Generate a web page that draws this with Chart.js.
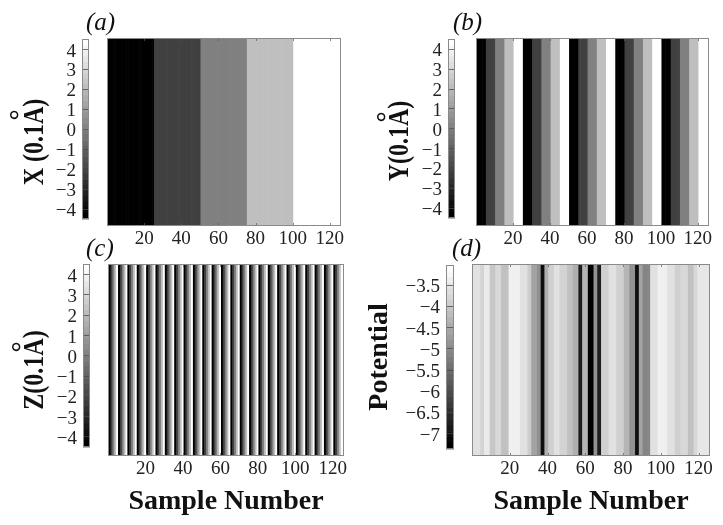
<!DOCTYPE html>
<html>
<head>
<meta charset="utf-8">
<title>Sample number maps</title>
<script src="https://cdn.jsdelivr.net/npm/chart.js@4"></script>
<style>
  html, body { margin: 0; background: #fff; }
  #page { position: relative; width: 723px; height: 525px; overflow: hidden; }
  canvas { position: absolute; }
</style>
</head>
<body>
<div id="page"></div>
<script>
const sampleNumbers = [
  1,2,3,4,5,6,7,8,9,10,11,12,13,14,15,16,17,18,19,20,21,22,23,24,25,
  26,27,28,29,30,31,32,33,34,35,36,37,38,39,40,41,42,43,44,45,46,47,48,49,50,
  51,52,53,54,55,56,57,58,59,60,61,62,63,64,65,66,67,68,69,70,71,72,73,74,75,
  76,77,78,79,80,81,82,83,84,85,86,87,88,89,90,91,92,93,94,95,96,97,98,99,100,
  101,102,103,104,105,106,107,108,109,110,111,112,113,114,115,116,117,118,119,120,121,122,123,124,125
];

const xValues = [
  -4,-4,-4,-4,-4,-4,-4,-4,-4,-4,-4,-4,-4,-4,-4,-4,-4,-4,-4,-4,-4,-4,-4,-4,-4,
  -2,-2,-2,-2,-2,-2,-2,-2,-2,-2,-2,-2,-2,-2,-2,-2,-2,-2,-2,-2,-2,-2,-2,-2,-2,
  0,0,0,0,0,0,0,0,0,0,0,0,0,0,0,0,0,0,0,0,0,0,0,0,0,
  2,2,2,2,2,2,2,2,2,2,2,2,2,2,2,2,2,2,2,2,2,2,2,2,2,
  4,4,4,4,4,4,4,4,4,4,4,4,4,4,4,4,4,4,4,4,4,4,4,4,4
];

const yValues = [
  -4,-4,-4,-4,-4,-2,-2,-2,-2,-2,0,0,0,0,0,2,2,2,2,2,4,4,4,4,4,
  -4,-4,-4,-4,-4,-2,-2,-2,-2,-2,0,0,0,0,0,2,2,2,2,2,4,4,4,4,4,
  -4,-4,-4,-4,-4,-2,-2,-2,-2,-2,0,0,0,0,0,2,2,2,2,2,4,4,4,4,4,
  -4,-4,-4,-4,-4,-2,-2,-2,-2,-2,0,0,0,0,0,2,2,2,2,2,4,4,4,4,4,
  -4,-4,-4,-4,-4,-2,-2,-2,-2,-2,0,0,0,0,0,2,2,2,2,2,4,4,4,4,4
];

const zValues = [
  -4,-2,0,2,4,-4,-2,0,2,4,-4,-2,0,2,4,-4,-2,0,2,4,-4,-2,0,2,4,
  -4,-2,0,2,4,-4,-2,0,2,4,-4,-2,0,2,4,-4,-2,0,2,4,-4,-2,0,2,4,
  -4,-2,0,2,4,-4,-2,0,2,4,-4,-2,0,2,4,-4,-2,0,2,4,-4,-2,0,2,4,
  -4,-2,0,2,4,-4,-2,0,2,4,-4,-2,0,2,4,-4,-2,0,2,4,-4,-2,0,2,4,
  -4,-2,0,2,4,-4,-2,0,2,4,-4,-2,0,2,4,-4,-2,0,2,4,-4,-2,0,2,4
];

// (d) stripe by stripe
const potentialValues = [
  -3.55,-3.55,-3.55,-3.55,-3.8,-3.8,-3.4,-3.4,-3.4,-4.0,-4.0,-4.0,-3.7,-3.7,-3.7,-4.1,-4.1,-4.1,-4.1,
  -3.3,-3.3,-3.3,-3.3,-3.3,-3.3,-3.55,-3.55,-3.55,-3.55,-3.9,-3.9,-4.6,-4.6,-4.6,-4.9,-4.9,
  -7.1,-7.1,-4.4,-4.4,-3.85,-3.85,-3.85,-3.55,-3.55,-3.55,-3.8,-3.8,-3.8,-3.8,
  -4.1,-4.1,-4.1,-4.4,-4.4,-4.4,-6.9,-6.9,-4.3,-4.3,-4.3,-7.35,-7.35,-7.35,-4.9,-4.9,-6.9,-6.9,
  -3.85,-3.85,-3.85,-3.85,-3.55,-3.55,-3.55,-3.55,-3.85,-3.85,-3.85,-3.85,-4.3,-4.3,-4.3,
  -4.9,-4.9,-4.9,-7.1,-7.1,-4.6,-4.6,-5.1,-5.1,-5.1,-5.1,-3.55,-3.55,-3.55,-3.55,
  -3.3,-3.3,-3.3,-3.3,-3.3,-3.55,-3.55,-3.55,-3.55,-3.85,-3.85,-3.85,-3.7,-3.7,-3.7,-3.7,
  -4.1,-4.1,-4.1,-3.7,-3.7,-3.45,-3.45,-3.45,-3.45,-3.45,-3.45
];

const positionTicks = [-4, -3, -2, -1, 0, 1, 2, 3, 4];
const potentialTicks = [-3.5, -4, -4.5, -5, -5.5, -6, -6.5, -7];
const sampleTicks = [20, 40, 60, 80, 100, 120];

// colour bar steps, dark to light
const barGreys = [
  0,8,16,25,33,41,49,58,66,74,82,90,99,107,115,123,
  132,140,148,156,165,173,181,189,197,206,214,222,230,239,247,255
];

const SERIF = "'Liberation Serif', 'Times New Roman', serif";

const panels = [
  { letter: "(a)", letterX: 86, letterY: 30, title: "X (0.1A)", titleX: 43, titleY: 142, titleSize: 24, titleStretch: 1.2, ringX: 28, ringY: 115,
    values: xValues, ticks: positionTicks, colorMin: -4, colorMax: 4, barMin: -4.48, barMax: 4.48,
    map: { x: 108, y: 39, w: 232, h: 186 }, bar: { x: 83, y: 40, w: 5, h: 187 }, xTitle: "" },
  { letter: "(b)", letterX: 453, letterY: 30, title: "Y(0.1A)", titleX: 408, titleY: 141, titleSize: 24, titleStretch: 1.2, ringX: 395, ringY: 117,
    values: yValues, ticks: positionTicks, colorMin: -4, colorMax: 4, barMin: -4.48, barMax: 4.48,
    map: { x: 477, y: 39, w: 231, h: 186 }, bar: { x: 449, y: 40, w: 5, h: 186 }, xTitle: "" },
  { letter: "(c)", letterX: 86, letterY: 256, title: "Z(0.1A)", titleX: 43, titleY: 370, titleSize: 24, titleStretch: 1.2, ringX: 30, ringY: 347,
    values: zValues, ticks: positionTicks, colorMin: -4, colorMax: 4, barMin: -4.48, barMax: 4.48,
    map: { x: 109, y: 265, w: 234, h: 190 }, bar: { x: 84, y: 265, w: 5, h: 190 }, xTitle: "Sample Number" },
  { letter: "(d)", letterX: 452, letterY: 256, title: "Potential", titleX: 387, titleY: 357, titleSize: 28, titleStretch: 1,
    values: potentialValues, ticks: potentialTicks, colorMin: -7.35, colorMax: -3.05, barMin: -7.35, barMax: -3.05,
    map: { x: 473, y: 265, w: 236, h: 190 }, bar: { x: 447, y: 266, w: 6, h: 191 }, xTitle: "Sample Number" }
];

function greyFor(value, min, max) {
  const g = Math.round(255 * (value - min) / (max - min));
  return `rgb(${g},${g},${g})`;
}

function addCanvas(x, y, w, h) {
  const canvas = document.createElement("canvas");
  canvas.width = w;
  canvas.height = h;
  canvas.style.left = `${x}px`;
  canvas.style.top = `${y}px`;
  canvas.style.width = `${w}px`;
  canvas.style.height = `${h}px`;
  document.getElementById("page").appendChild(canvas);
  return canvas;
}

function minusLabel(value) {
  return value < 0 ? `\u2212${Math.abs(value)}` : `${value}`;
}

const framePlugin = {
  id: "frame",
  afterDatasetsDraw(chart) {
    const { left, top, width, height } = chart.chartArea;
    const ctx = chart.ctx;
    ctx.save();
    ctx.strokeStyle = "#8a8a8a";
    ctx.lineWidth = 1;
    ctx.strokeRect(left - 0.5, top - 0.5, width + 1, height + 1);
    ctx.restore();
  },
};

// short inward ticks on the top and bottom edge of a map
const edgeTicksPlugin = {
  id: "edgeTicks",
  afterDatasetsDraw(chart) {
    const { top, bottom } = chart.chartArea;
    const ctx = chart.ctx;
    ctx.save();
    ctx.strokeStyle = "rgba(90,90,90,0.7)";
    ctx.lineWidth = 1;
    sampleTicks.forEach((n) => {
      const px = Math.round(chart.scales.x.getPixelForValue(sampleNumbers.indexOf(n))) + 0.5;
      ctx.beginPath();
      ctx.moveTo(px, top);
      ctx.lineTo(px, top + 2);
      ctx.moveTo(px, bottom);
      ctx.lineTo(px, bottom - 2);
      ctx.stroke();
    });
    ctx.restore();
  },
};

// panel letter and rotated side title, placed by hand like the original figure
const panelTextPlugin = {
  id: "panelText",
  afterDraw(chart, args, opts) {
    const ctx = chart.ctx;
    const originX = chart.canvas.offsetLeft;
    const originY = chart.canvas.offsetTop;
    ctx.save();
    ctx.fillStyle = "#111";
    ctx.font = `italic 25px ${SERIF}`;
    ctx.fillText(opts.letter, opts.letterX - originX, opts.letterY - originY);
    ctx.save();
    ctx.translate(opts.titleX - originX, opts.titleY - originY);
    ctx.rotate(-Math.PI / 2);
    ctx.scale(1, opts.titleStretch);
    ctx.textAlign = "center";
    ctx.font = `bold ${opts.titleSize}px ${SERIF}`;
    ctx.fillText(opts.title, 0, 0);
    ctx.restore();
    if (opts.ringX) {
      // the ring of the angstrom sign sits well clear of the A in the original
      ctx.translate(opts.ringX - originX, opts.ringY - originY);
      ctx.rotate(-Math.PI / 2);
      ctx.textAlign = "center";
      ctx.font = `bold 28px ${SERIF}`;
      ctx.fillText("\u00B0", 0, 0);
    }
    ctx.restore();
  },
};

function drawMap(panel) {
  const { map } = panel;
  const axisHeight = panel.xTitle ? 70 : 30;
  const canvas = addCanvas(map.x - 10, map.y - 2, map.w + 30, map.h + 2 + axisHeight);
  new Chart(canvas, {
    type: "bar",
    data: {
      labels: sampleNumbers,
      datasets: [{
        data: panel.values.map(() => [0, 1]),
        backgroundColor: panel.values.map((v) => greyFor(v, panel.colorMin, panel.colorMax)),
        barPercentage: 1,
        categoryPercentage: 1,
        borderWidth: 0,
      }],
    },
    options: {
      responsive: false,
      animation: false,
      layout: { padding: { left: 10, top: 2, right: 20, bottom: 0 } },
      plugins: { legend: { display: false }, tooltip: { enabled: false } },
      scales: {
        x: {
          afterFit: (axis) => { axis.height = axisHeight; },
          grid: { display: false, drawTicks: false },
          border: { display: false },
          title: {
            display: Boolean(panel.xTitle),
            text: panel.xTitle,
            color: "#111",
            font: { family: SERIF, size: 28, weight: "bold" },
            padding: { top: 0, bottom: 6 },
          },
          ticks: {
            autoSkip: false,
            maxRotation: 0,
            padding: 3,
            color: "#222",
            font: { family: SERIF, size: 19 },
            callback(value) {
              const n = sampleNumbers[value];
              return sampleTicks.includes(n) ? `${n}` : "";
            },
          },
        },
        y: { display: false, min: 0, max: 1 },
      },
    },
    plugins: [framePlugin, edgeTicksPlugin],
  });
}

function drawColorBar(panel) {
  const { bar } = panel;
  const left = panel.letterX > 300 ? 360 : 0;
  const top = bar.y - 40;
  const width = bar.x + bar.w + 40 - left;
  const height = bar.h + 50;
  const canvas = addCanvas(left, top, width, height);
  const step = (panel.barMax - panel.barMin) / barGreys.length;
  new Chart(canvas, {
    type: "bar",
    data: {
      labels: [""],
      datasets: barGreys.map((g, i) => ({
        data: [[panel.barMin + i * step, panel.barMin + (i + 1) * step]],
        backgroundColor: `rgb(${g},${g},${g})`,
        barPercentage: 1,
        categoryPercentage: 1,
        grouped: false,
        borderWidth: 0,
      })),
    },
    options: {
      responsive: false,
      animation: false,
      layout: { padding: { top: 40, right: 40, bottom: 10 } },
      plugins: {
        legend: { display: false },
        tooltip: { enabled: false },
        panelText: panel,
      },
      scales: {
        x: { display: false },
        y: {
          min: panel.barMin,
          max: panel.barMax,
          afterFit: (axis) => { axis.width = bar.x - left; },
          afterBuildTicks: (axis) => { axis.ticks = panel.ticks.map((value) => ({ value })); },
          grid: { color: "rgba(70,70,70,0.75)", z: 1, drawTicks: false },
          border: { display: false },
          ticks: {
            autoSkip: false,
            padding: 7,
            labelOffset: 2,
            color: "#222",
            font: { family: SERIF, size: 19 },
            callback: minusLabel,
          },
        },
      },
    },
    plugins: [framePlugin, panelTextPlugin],
  });
}

panels.forEach((panel) => {
  drawMap(panel);
  drawColorBar(panel);
});
</script>
</body>
</html>
